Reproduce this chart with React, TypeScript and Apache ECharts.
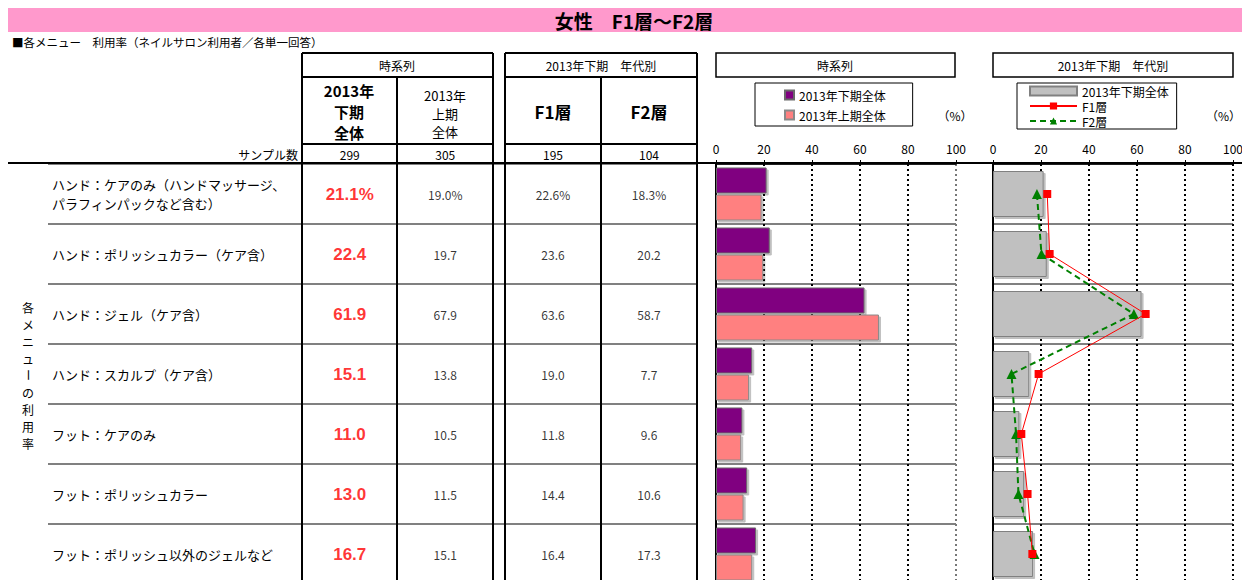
import React, { useEffect, useRef } from 'react';
import * as echarts from 'echarts';

const MENUS = [
  'ハンド：ケアのみ（ハンドマッサージ、\nパラフィンパックなど含む）',
  'ハンド：ポリッシュカラー（ケア含）',
  'ハンド：ジェル（ケア含）',
  'ハンド：スカルプ（ケア含）',
  'フット：ケアのみ',
  'フット：ポリッシュカラー',
  'フット：ポリッシュ以外のジェルなど',
];
const TOTAL_2013H2 = [21.1, 22.4, 61.9, 15.1, 11.0, 13.0, 16.7];
const TOTAL_2013H1 = [19.0, 19.7, 67.9, 13.8, 10.5, 11.5, 15.1];
const F1 = [22.6, 23.6, 63.6, 19.0, 11.8, 14.4, 16.4];
const F2 = [18.3, 20.2, 58.7, 7.7, 9.6, 10.6, 17.3];
const SAMPLES = [299, 305, 195, 104];
const TIME_COLS = ['2013年下期全体', '2013年上期全体'];
const AGE_COLS = ['F1層', 'F2層'];
const SIDE_LABEL = ['各', 'メ', 'ニ', 'ュ', 'ー', 'の', '利', '用', '率'];

const FF = '"Noto Sans CJK JP", "Noto Sans", sans-serif';
const fmt = (v: number, i: number) => v.toFixed(1) + (i === 0 ? '%' : '');

const line = (x1: number, y1: number, x2: number, y2: number, w = 2, c = '#000') => ({
  type: 'line',
  z: 100,
  shape: { x1, y1, x2, y2 },
  style: { stroke: c, lineWidth: w },
});
const text = (
  t: string,
  x: number,
  y: number,
  size = 12,
  opts: { bold?: boolean; align?: string; color?: string; lineHeight?: number; rotation?: number } = {}
) => ({
  type: 'text',
  z: 100,
  x,
  y,
  rotation: opts.rotation || 0,
  style: {
    text: t,
    fill: opts.color || '#000',
    font: `${opts.bold ? 'bold ' : ''}${size}px ${FF}`,
    textAlign: opts.align || 'center',
    textVerticalAlign: 'middle',
    align: opts.align || 'center',
    verticalAlign: 'middle',
    lineHeight: opts.lineHeight,
  },
});

const valueXAxis = (gridIndex: number, lastColor: string) => ({
  type: 'value',
  gridIndex,
  min: 0,
  max: 100,
  interval: 20,
  position: 'top',
  axisLine: { show: true, lineStyle: { color: '#000', width: 1.5 } },
  axisTick: { show: true, length: 4, lineStyle: { color: '#000', width: 1 } },
  axisLabel: { fontSize: 12, color: '#000', margin: 10, fontFamily: FF },
  splitLine: {
    show: true,
    lineStyle: { color: ['#000', '#000', '#000', '#000', '#000', lastColor], width: 2, type: [2, 3] },
  },
});
const rowYAxis = (gridIndex: number) => ({
  type: 'category',
  gridIndex,
  data: MENUS,
  inverse: true,
  axisLine: { show: true, lineStyle: { color: '#000', width: 2 } },
  axisTick: { show: false },
  axisLabel: { show: false, interval: 0 },
  splitLine: { show: true, interval: 0, lineStyle: { color: '#808080', width: 2 } },
});
const cellSeries = (xIndex: number, col: string, vals: number[], red: boolean) => ({
  type: 'scatter',
  xAxisIndex: xIndex,
  yAxisIndex: xIndex,
  silent: true,
  symbolSize: 1,
  itemStyle: { color: 'rgba(0,0,0,0)' },
  data: vals.map((v, i) => [col, MENUS[i], v]),
  label: {
    show: true,
    position: 'inside',
    formatter: (p: any) => fmt(p.value[2], p.dataIndex),
    color: red ? '#FF0000' : '#000',
    fontWeight: red ? 'bold' : 'normal',
    fontSize: red ? 17 : 12,
    fontFamily: red ? '"Liberation Sans", Arial, sans-serif' : FF,
  },
});
const colXAxis = (gridIndex: number, cols: string[], offset: number) => ({
  type: 'category',
  gridIndex,
  data: cols,
  position: 'top',
  axisLine: { show: false },
  axisTick: { show: false },
  splitLine: { show: false },
  axisLabel: {
    interval: 0,
    margin: 4,
    fontSize: 12,
    color: '#000',
    fontFamily: FF,
    formatter: (_v: string, i: number) => String(SAMPLES[i + offset]),
  },
});

export default function App() {
  const ref = useRef<HTMLDivElement>(null);
  useEffect(() => {
    document.body.style.margin = '0';
    document.body.style.overflow = 'hidden';
    if (!ref.current) return;
    const chart = echarts.init(ref.current, undefined, { renderer: 'svg' });

    const graphics: any[] = [
      { type: 'rect', z: 90, shape: { x: 8, y: 8, width: 1234, height: 24 }, style: { fill: '#FF99CC' } },
      text('女性　F1層～F2層', 634, 20, 19, { bold: true }),
      text('■各メニュー　利用率（ネイルサロン利用者／各単一回答）', 12, 42, 11.5, { align: 'left' }),
      // table header lines
      line(302, 53, 493, 53), line(505, 53, 697, 53),
      line(302, 77, 493, 77), line(505, 77, 697, 77),
      line(302, 144, 493, 144), line(505, 144, 697, 144),
      line(8, 163, 1242, 163),
      line(302, 53, 302, 580), line(397, 77, 397, 580), line(493, 53, 493, 580),
      line(505, 53, 505, 580), line(601, 77, 601, 580), line(697, 53, 697, 580),
      // header texts
      text('2013年', 349, 90, 15, { bold: true }),
      text('下期', 349, 111, 15, { bold: true }),
      text('全体', 349, 132, 15, { bold: true }),
      text('時系列', 397, 65, 12),
      text('2013年下期　年代別', 601, 65, 12),
      text('2013年\n上期\n全体', 445, 113, 13, { lineHeight: 18 }),
      text('F1層', 553, 111, 17, { bold: true }),
      text('F2層', 649, 111, 17, { bold: true }),
      text('サンプル数', 298, 154, 12, { align: 'right' }),
      // chart headers
      { type: 'rect', z: 100, shape: { x: 716, y: 53, width: 239, height: 24 }, style: { fill: 'none', stroke: '#000', lineWidth: 1.5 } },
      { type: 'rect', z: 100, shape: { x: 993, y: 53, width: 240, height: 24 }, style: { fill: 'none', stroke: '#000', lineWidth: 1.5 } },
      text('時系列', 835, 65, 12),
      text('2013年下期　年代別', 1113, 65, 12),
      text('（%）', 955, 115, 12),
      text('（%）', 1241, 115, 12, { align: 'right' }),
      ...SIDE_LABEL.map((c, i) =>
        text(c, 28, 307 + i * 17, 12, { rotation: c === 'ー' ? -Math.PI / 2 : 0 })
      ),
    ];

    const shadow = { shadowColor: 'rgba(0,0,0,0.25)', shadowOffsetX: 2, shadowOffsetY: 2, shadowBlur: 1 };

    chart.setOption({
      animation: false,
      backgroundColor: '#fff',
      textStyle: { fontFamily: FF },
      grid: [
        { left: 716, top: 164, width: 240, height: 420, outerBoundsMode: 'none', containLabel: false },
        { left: 993, top: 164, width: 240, height: 420, outerBoundsMode: 'none', containLabel: false },
        { left: 48, top: 164, width: 649, height: 420, outerBoundsMode: 'none', containLabel: false },
        { left: 302, top: 164, width: 191, height: 420, outerBoundsMode: 'none', containLabel: false },
        { left: 505, top: 164, width: 192, height: 420, outerBoundsMode: 'none', containLabel: false },
      ],
      xAxis: [
        valueXAxis(0, '#777'),
        valueXAxis(1, '#000'),
        { type: 'value', gridIndex: 2, show: false, min: 0, max: 1 },
        colXAxis(3, TIME_COLS, 0),
        colXAxis(4, AGE_COLS, 2),
      ],
      yAxis: [
        rowYAxis(0),
        rowYAxis(1),
        {
          type: 'category',
          gridIndex: 2,
          data: MENUS,
          inverse: true,
          axisLine: { show: false },
          axisTick: { show: false },
          axisLabel: {
            show: true,
            inside: true,
            interval: 0,
            margin: 4,
            align: 'left',
            fontSize: 13,
            lineHeight: 19,
            color: '#000',
            fontFamily: FF,
          },
          splitLine: { show: true, interval: 0, lineStyle: { color: '#808080', width: 2 } },
        },
        { type: 'category', gridIndex: 3, data: MENUS, inverse: true, show: false },
        { type: 'category', gridIndex: 4, data: MENUS, inverse: true, show: false },
      ],
      legend: [
        {
          data: ['2013年下期全体', '2013年上期全体'],
          left: 755,
          top: 83,
          orient: 'vertical',
          borderColor: '#000',
          borderWidth: 1,
          padding: [6, 27, 5, 29],
          itemGap: 8,
          itemWidth: 9,
          itemHeight: 9,
          icon: 'rect',
          selectedMode: false,
          textStyle: { fontSize: 12, color: '#000', fontFamily: FF },
        },
        {
          data: [{ name: '年代別全体', icon: 'rect' }, 'F1層', 'F2層'],
          left: 1017,
          top: 83,
          orient: 'vertical',
          borderColor: '#000',
          borderWidth: 1,
          padding: [2, 8, 2, 12],
          itemGap: 3,
          itemWidth: 47,
          itemHeight: 9,
          selectedMode: false,
          formatter: (n: string) => (n === '年代別全体' ? '2013年下期全体' : n),
          textStyle: { fontSize: 12, color: '#000', fontFamily: FF },
        },
      ],
      series: [
        {
          name: '2013年下期全体',
          type: 'bar',
          xAxisIndex: 0,
          yAxisIndex: 0,
          data: TOTAL_2013H2,
          barWidth: 26,
          barGap: '4%',
          itemStyle: { color: '#800080', borderColor: '#6a6a6a', borderWidth: 1, ...shadow },
        },
        {
          name: '2013年上期全体',
          type: 'bar',
          xAxisIndex: 0,
          yAxisIndex: 0,
          data: TOTAL_2013H1,
          barWidth: 26,
          barGap: '4%',
          itemStyle: { color: '#FF8080', borderColor: '#8a8a8a', borderWidth: 1, ...shadow },
        },
        {
          name: '年代別全体',
          type: 'bar',
          xAxisIndex: 1,
          yAxisIndex: 1,
          data: TOTAL_2013H2,
          barWidth: 46,
          itemStyle: { color: '#C0C0C0', borderColor: '#808080', borderWidth: 1, ...shadow },
        },
        {
          name: 'F1層',
          type: 'line',
          xAxisIndex: 1,
          yAxisIndex: 1,
          data: F1.map((v, i) => [v, MENUS[i]]),
          symbol: 'rect',
          symbolSize: 8,
          z: 4,
          itemStyle: { color: '#FF0000' },
          lineStyle: { color: '#FF0000', width: 1 },
        },
        {
          name: 'F2層',
          type: 'line',
          xAxisIndex: 1,
          yAxisIndex: 1,
          data: F2.map((v, i) => [v, MENUS[i]]),
          symbol: 'triangle',
          symbolSize: 10,
          z: 3,
          itemStyle: { color: '#008000' },
          lineStyle: { color: '#008000', width: 2, type: [6, 4] },
        },
        cellSeries(3, TIME_COLS[0], TOTAL_2013H2, true),
        cellSeries(3, TIME_COLS[1], TOTAL_2013H1, false),
        cellSeries(4, AGE_COLS[0], F1, false),
        cellSeries(4, AGE_COLS[1], F2, false),
      ],
      graphic: graphics,
    });
    return () => chart.dispose();
  }, []);
  return <div ref={ref} style={{ width: 1242, height: 580 }} />;
}
